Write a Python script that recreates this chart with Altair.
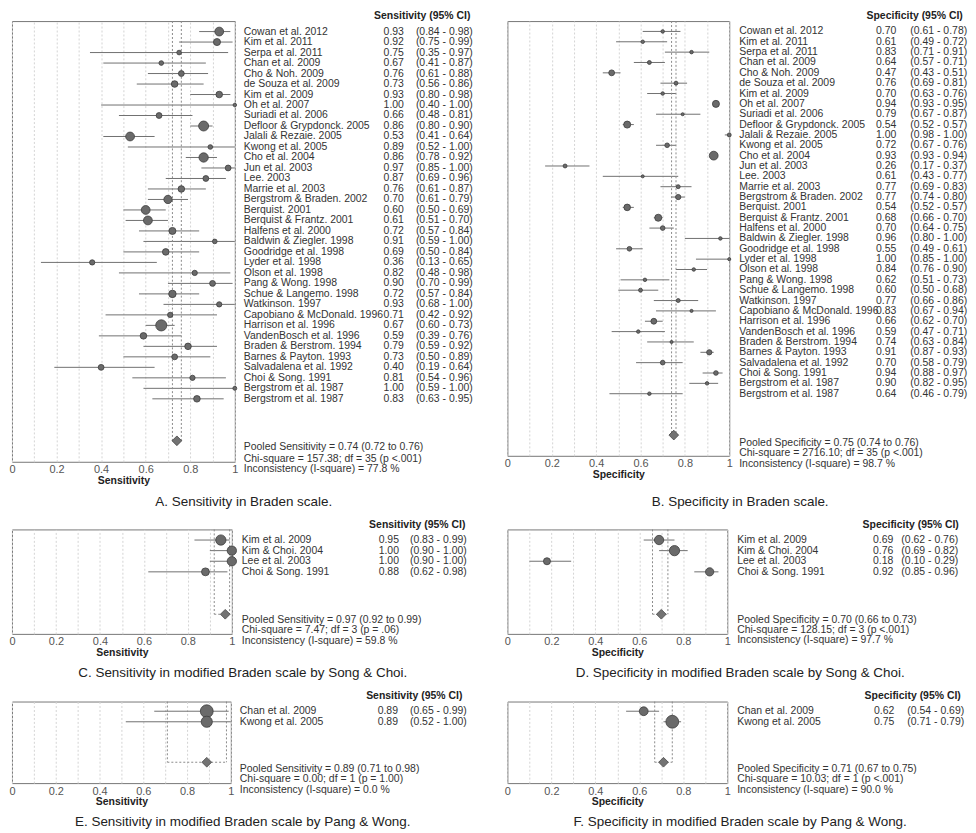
import altair as alt
import pandas as pd

FONT = "Liberation Sans"

# ---------------- A. Sensitivity in Braden scale ----------------
studies_A = ["Cowan et al. 2012", "Kim et al. 2011", "Serpa et al. 2011", "Chan et al. 2009",
             "Cho & Noh. 2009", "de Souza et al. 2009", "Kim et al. 2009", "Oh et al. 2007",
             "Suriadi et al. 2006", "Defloor & Grypdonck. 2005", "Jalali & Rezaie. 2005",
             "Kwong et al. 2005", "Cho et al. 2004", "Jun et al. 2003", "Lee. 2003",
             "Marrie et al. 2003", "Bergstrom & Braden. 2002", "Berquist. 2001",
             "Berquist & Frantz. 2001", "Halfens et al. 2000", "Baldwin & Ziegler. 1998",
             "Goodridge et al. 1998", "Lyder et al. 1998", "Olson et al. 1998", "Pang & Wong. 1998",
             "Schue & Langemo. 1998", "Watkinson. 1997", "Capobiano & McDonald. 1996",
             "Harrison et al. 1996", "VandenBosch et al. 1996", "Braden & Berstrom. 1994",
             "Barnes & Payton. 1993", "Salvadalena et al. 1992", "Choi & Song. 1991",
             "Bergstrom et al. 1987", "Bergstrom et al. 1987"]
sens_A = [0.93, 0.92, 0.75, 0.67, 0.76, 0.73, 0.93, 1.00, 0.66, 0.86, 0.53, 0.89, 0.86, 0.97, 0.87,
          0.76, 0.70, 0.60, 0.61, 0.72, 0.91, 0.69, 0.36, 0.82, 0.90, 0.72, 0.93, 0.71, 0.67, 0.59,
          0.79, 0.73, 0.40, 0.81, 1.00, 0.83]
lo_A = [0.84, 0.75, 0.35, 0.41, 0.61, 0.56, 0.80, 0.40, 0.48, 0.80, 0.41, 0.52, 0.78, 0.85, 0.69,
        0.61, 0.61, 0.50, 0.51, 0.57, 0.59, 0.50, 0.13, 0.48, 0.70, 0.57, 0.68, 0.42, 0.60, 0.39,
        0.59, 0.50, 0.19, 0.54, 0.59, 0.63]
hi_A = [0.98, 0.99, 0.97, 0.87, 0.88, 0.86, 0.98, 1.00, 0.81, 0.90, 0.64, 1.00, 0.92, 1.00, 0.96,
        0.87, 0.79, 0.69, 0.70, 0.84, 1.00, 0.84, 0.65, 0.98, 0.99, 0.84, 1.00, 0.92, 0.73, 0.76,
        0.92, 0.89, 0.64, 0.96, 1.00, 0.95]
weight_A = [25, 16, 7, 7, 11, 14, 14, 4, 11, 32, 25, 7, 28, 11, 11, 14, 22, 25, 25, 16, 7, 14, 9, 9,
            11, 18, 9, 9, 40, 14, 14, 11, 11, 9, 5, 14]
pooled_A = [0.74, 0.72, 0.76]
stats_A = ["Pooled Sensitivity = 0.74 (0.72 to 0.76)",
           "Chi-square = 157.38; df =  35 (p <.001)",
           "Inconsistency (I-square) = 77.8 %"]

# ---------------- B. Specificity in Braden scale ----------------
studies_B = studies_A
spec_B = [0.70, 0.61, 0.83, 0.64, 0.47, 0.76, 0.70, 0.94, 0.79, 0.54, 1.00, 0.72, 0.93, 0.26, 0.61,
          0.77, 0.77, 0.54, 0.68, 0.70, 0.96, 0.55, 1.00, 0.84, 0.62, 0.60, 0.77, 0.83, 0.66, 0.59,
          0.74, 0.91, 0.70, 0.94, 0.90, 0.64]
lo_B = [0.61, 0.49, 0.71, 0.57, 0.43, 0.69, 0.63, 0.93, 0.67, 0.52, 0.98, 0.67, 0.93, 0.17, 0.43,
        0.69, 0.74, 0.52, 0.66, 0.64, 0.80, 0.49, 0.85, 0.76, 0.51, 0.50, 0.66, 0.67, 0.62, 0.47,
        0.63, 0.87, 0.58, 0.88, 0.82, 0.46]
hi_B = [0.78, 0.72, 0.91, 0.71, 0.51, 0.81, 0.76, 0.95, 0.87, 0.57, 1.00, 0.76, 0.94, 0.37, 0.77,
        0.83, 0.80, 0.57, 0.70, 0.75, 1.00, 0.61, 1.00, 0.90, 0.73, 0.68, 0.86, 0.94, 0.70, 0.71,
        0.84, 0.93, 0.79, 0.97, 0.95, 0.79]
weight_B = [4, 4, 4, 5, 11, 5, 4, 16, 3, 16, 5, 7, 25, 5, 3, 5, 9, 14, 16, 7, 4, 7, 3, 4, 4, 5, 5, 3,
            11, 4, 3, 9, 7, 7, 4, 4]
pooled_B = [0.75, 0.74, 0.76]
stats_B = ["Pooled Specificity = 0.75 (0.74 to 0.76)",
           "Chi-square = 2716.10; df =  35 (p <.001)",
           "Inconsistency (I-square) = 98.7 %"]

# ---------------- C / D. Modified Braden scale by Song & Choi ----------------
studies_CD = ["Kim et al. 2009", "Kim & Choi. 2004", "Lee et al. 2003", "Choi & Song. 1991"]
sens_C = [0.95, 1.00, 1.00, 0.88]
lo_C = [0.83, 0.90, 0.90, 0.62]
hi_C = [0.99, 1.00, 1.00, 0.98]
weight_C = [34, 28, 28, 20]
pooled_C = [0.97, 0.92, 0.99]
stats_C = ["Pooled Sensitivity = 0.97 (0.92 to 0.99)",
           "Chi-square = 7.47; df =  3 (p = .06)",
           "Inconsistency (I-square) = 59.8 %"]

spec_D = [0.69, 0.76, 0.18, 0.92]
lo_D = [0.62, 0.69, 0.10, 0.85]
hi_D = [0.76, 0.82, 0.29, 0.96]
weight_D = [28, 34, 16, 22]
pooled_D = [0.70, 0.66, 0.73]
stats_D = ["Pooled Specificity = 0.70 (0.66 to 0.73)",
           "Chi-square = 128.15; df =  3 (p <.001)",
           "Inconsistency (I-square) = 97.7 %"]

# ---------------- E / F. Modified Braden scale by Pang & Wong ----------------
studies_EF = ["Chan et al. 2009", "Kwong et al. 2005"]
sens_E = [0.89, 0.89]
lo_E = [0.65, 0.52]
hi_E = [0.99, 1.00]
weight_E = [53, 40]
pooled_E = [0.89, 0.71, 0.98]
stats_E = ["Pooled Sensitivity = 0.89 (0.71 to 0.98)",
           "Chi-square = 0.00; df =  1 (p = 1.00)",
           "Inconsistency  (I-square)  = 0.0 %"]

spec_F = [0.62, 0.75]
lo_F = [0.54, 0.71]
hi_F = [0.69, 0.79]
weight_F = [25, 53]
pooled_F = [0.71, 0.67, 0.75]
stats_F = ["Pooled Specificity = 0.71 (0.67 to 0.75)",
           "Chi-square = 10.03; df =  1 (p <.001)",
           "Inconsistency (I-square) = 90.0 %"]

TEXT_COLOR = "#333333"
FS = 10.5


def panel(names, est, lo, hi, w, pooled, stats, header, xtitle, caption, L):
    n = len(names)
    df = pd.DataFrame({
        "row": list(range(n)), "name": names, "est": est, "lo": lo, "hi": hi, "w": w,
        "val": [f"{v:.2f}" for v in est],
        "ci": [f"({a:.2f} - {b:.2f})" for a, b in zip(lo, hi)],
    })
    ysc = alt.Scale(domain=L["ydom"], reverse=True, nice=False, zero=False)
    xsc = alt.Scale(domain=[0, 1], nice=False, zero=False)
    xax = alt.Axis(values=[i / 10 for i in range(11)], format=".1~f",
                   labelExpr="round(datum.value * 10) % 2 == 0 ? datum.label : ''",
                   title=xtitle)

    base = alt.Chart(df)
    ci = base.mark_rule(color="#707070", strokeWidth=1).encode(
        x=alt.X("lo:Q", scale=xsc, axis=xax), x2="hi:Q",
        y=alt.Y("row:Q", scale=ysc, axis=None))
    pts = base.mark_circle(color="#6a6a6a", stroke="#3c3c3c", strokeWidth=0.8, opacity=1).encode(
        x=alt.X("est:Q", scale=xsc, axis=xax),
        y=alt.Y("row:Q", scale=ysc, axis=None),
        size=alt.Size("w:Q", scale=alt.Scale(domain=[0, 100], range=[0, 314]), legend=None))

    top = L["ydom"][0]
    prow = L["prow"]
    vdf = pd.DataFrame({"x": [pooled[1], pooled[2]], "y0": [top, top], "y1": [prow, prow]})
    vlines = alt.Chart(vdf).mark_rule(color="#8a8a8a", strokeDash=[2, 2], strokeWidth=1).encode(
        x=alt.X("x:Q", scale=xsc, axis=xax),
        y=alt.Y("y0:Q", scale=ysc, axis=None), y2="y1:Q")
    pdf = pd.DataFrame({"est": [pooled[0]], "lo": [pooled[1]], "hi": [pooled[2]], "prow": [prow]})
    hline = alt.Chart(pdf).mark_rule(color="#8a8a8a", strokeDash=[2, 2], strokeWidth=1).encode(
        x=alt.X("lo:Q", scale=xsc, axis=xax), x2="hi:Q",
        y=alt.Y("prow:Q", scale=ysc, axis=None))
    diamond = alt.Chart(pdf).mark_point(shape="diamond", filled=True, size=95, fill="#737373",
                                        stroke="#444444", strokeWidth=0.8, opacity=1).encode(
        x=alt.X("est:Q", scale=xsc, axis=xax),
        y=alt.Y("prow:Q", scale=ysc, axis=None))

    txt = dict(font=FONT, fontSize=FS, color=TEXT_COLOR, baseline="middle")
    names_t = base.mark_text(align="left", **txt).encode(
        x=alt.value(L["nx"]), y=alt.Y("row:Q", scale=ysc, axis=None), text="name:N")
    vals_t = base.mark_text(align="right", **txt).encode(
        x=alt.value(L["vx"]), y=alt.Y("row:Q", scale=ysc, axis=None), text="val:N")
    ci_t = base.mark_text(align="left", **txt).encode(
        x=alt.value(L["cx"]), y=alt.Y("row:Q", scale=ysc, axis=None), text="ci:N")

    hdf = pd.DataFrame({"t": [header]})
    head_t = alt.Chart(hdf).mark_text(align="left", font=FONT, fontSize=FS, fontWeight="bold",
                                      color="#222222", baseline="middle").encode(
        x=alt.value(L["hx"]), y=alt.value(L["hy"]), text="t:N")

    sdf = pd.DataFrame({"t": stats, "r": L["srows"]})
    stats_t = alt.Chart(sdf).mark_text(align="left", **txt).encode(
        x=alt.value(L["nx"]), y=alt.Y("r:Q", scale=ysc, axis=None), text="t:N")

    cdf = pd.DataFrame({"t": [caption]})
    cap_t = alt.Chart(cdf).mark_text(align="center", font=FONT, fontSize=13.5, color="#222222",
                                     baseline="middle").encode(
        x=alt.value(L["capx"]), y=alt.value(L["capy"]), text="t:N")

    return alt.layer(ci, vlines, hline, pts, diamond, names_t, vals_t, ci_t, head_t, stats_t,
                     cap_t).properties(width=L["w"], height=L["h"])


LA = dict(w=224, h=443, ydom=[-1, 41], prow=39, srows=[39.64, 40.69, 41.66],
          nx=233, vx=394, cx=406, hx=364, hy=-5, capx=233, capy=483)
LB = dict(w=223, h=437, ydom=[-1, 41], prow=39, srows=[39.75, 40.71, 41.77],
          nx=233, vx=391, cx=405, hx=361, hy=-5, capx=234, capy=483)
LC = dict(w=221, h=105, ydom=[-1, 8.85], prow=7, srows=[7.54, 8.47, 9.48],
          nx=231, vx=389, cx=400, hx=359, hy=-4, capx=232, capy=144)
LD = dict(w=221, h=105, ydom=[-1, 8.85], prow=7, srows=[7.5, 8.48, 9.45],
          nx=231, vx=388, cx=396, hx=357, hy=-4, capx=234, capy=144)
LE = dict(w=220, h=82, ydom=[-0.92, 6.82], prow=4.84, srows=[5.47, 6.45, 7.46],
          nx=229, vx=388, cx=400, hx=356, hy=-6, capx=232, capy=121)
LF = dict(w=221, h=82, ydom=[-0.92, 6.82], prow=4.84, srows=[5.47, 6.45, 7.46],
          nx=231, vx=389, cx=402, hx=359, hy=-6, capx=234, capy=121)

pA = panel(studies_A, sens_A, lo_A, hi_A, weight_A, pooled_A, stats_A,
           "Sensitivity (95%  CI)", "Sensitivity", "A. Sensitivity in Braden scale.", LA)
pB = panel(studies_B, spec_B, lo_B, hi_B, weight_B, pooled_B, stats_B,
           "Specificity (95%  CI)", "Specificity", "B. Specificity in Braden scale.", LB)
pC = panel(studies_CD, sens_C, lo_C, hi_C, weight_C, pooled_C, stats_C,
           "Sensitivity (95% CI)", "Sensitivity",
           "C. Sensitivity in modified Braden scale by Song & Choi.", LC)
pD = panel(studies_CD, spec_D, lo_D, hi_D, weight_D, pooled_D, stats_D,
           "Specificity (95% CI)", "Specificity",
           "D. Specificity in modified Braden scale by Song & Choi.", LD)
pE = panel(studies_EF, sens_E, lo_E, hi_E, weight_E, pooled_E, stats_E,
           "Sensitivity (95% CI)", "Sensitivity",
           "E. Sensitivity in modified Braden scale by Pang & Wong.", LE)
pF = panel(studies_EF, spec_F, lo_F, hi_F, weight_F, pooled_F, stats_F,
           "Specificity (95% CI)", "Specificity",
           "F. Specificity in modified Braden scale by Pang & Wong.", LF)

chart = alt.concat(pA, pB, pC, pD, pE, pF, columns=2,
                   spacing={"row": 68, "column": 274}, bounds="flush").properties(
    padding={"left": 0, "top": 0, "right": 0, "bottom": 0}
).configure_view(
    stroke="#777777", strokeWidth=1
).configure_axis(
    labelFont=FONT, labelFontSize=11, labelColor="#555555", labelPadding=2, labelFlush=False,
    titleFont=FONT, titleFontSize=10.5, titleFontWeight="bold", titleColor="#222222",
    titlePadding=1, ticks=False, domain=False, grid=True, gridColor="#d4d4d4",
    gridDash=[2, 2], gridWidth=1
)

chart.save("out.html", embed_options={"renderer": "svg", "actions": False})
